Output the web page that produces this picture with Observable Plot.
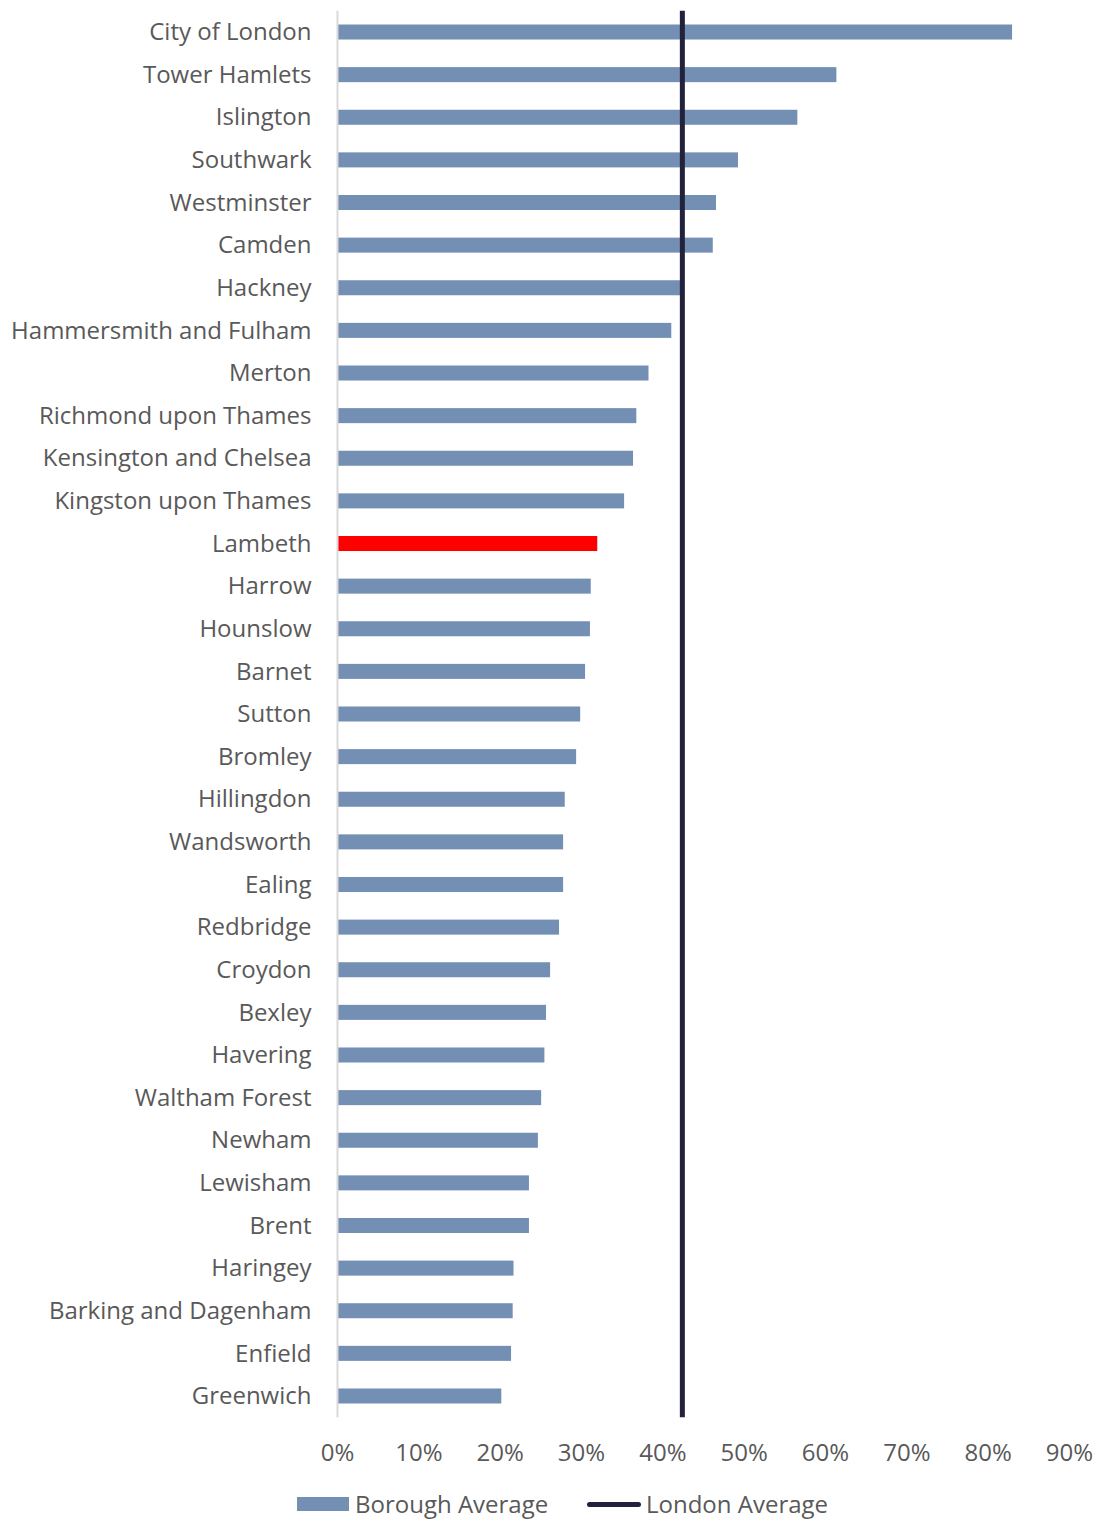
<!DOCTYPE html>
<html>
<head>
<meta charset="utf-8">
<script src="https://cdn.jsdelivr.net/npm/d3@7"></script>
<script src="https://cdn.jsdelivr.net/npm/@observablehq/plot@0.6"></script>
<style>
  html, body { margin: 0; padding: 0; background: #fff; }
  body { width: 1104px; height: 1521px; overflow: hidden; font-family: "Open Sans", sans-serif; }
  #chart svg { display: block; }
  .legend { position: relative; height: 32px; margin-top: 9px; font-family: "Open Sans", sans-serif; font-size: 24px; color: #595959; }
  .legend .item { position: absolute; top: 0; display: flex; align-items: center; height: 30px; line-height: 30px; white-space: nowrap; }
  .legend .sw-bar { width: 52px; height: 14px; background: #748fb4; margin-right: 6px; }
  .legend .sw-line { width: 54px; height: 5px; border-radius: 3px; background: #22223c; margin-right: 5px; }
</style>
</head>
<body>
<div id="chart"></div>
<div class="legend">
  <div class="item" style="left:297px"><span class="sw-bar"></span><span>Borough Average</span></div>
  <div class="item" style="left:587px"><span class="sw-line"></span><span>London Average</span></div>
</div>
<script>
const boroughs = ["City of London","Tower Hamlets","Islington","Southwark","Westminster","Camden","Hackney","Hammersmith and Fulham","Merton","Richmond upon Thames","Kensington and Chelsea","Kingston upon Thames","Lambeth","Harrow","Hounslow","Barnet","Sutton","Bromley","Hillingdon","Wandsworth","Ealing","Redbridge","Croydon","Bexley","Havering","Waltham Forest","Newham","Lewisham","Brent","Haringey","Barking and Dagenham","Enfield","Greenwich"];
const boroughAverage = [83.0,61.4,56.6,49.3,46.6,46.2,42.2,41.1,38.3,36.8,36.4,35.3,32.0,31.2,31.1,30.5,29.9,29.4,28.0,27.8,27.8,27.3,26.2,25.7,25.5,25.1,24.7,23.6,23.6,21.7,21.6,21.4,20.2];
const londonAverage = 42.4;
const highlight = "Lambeth";
const xTicks = [0,10,20,30,40,50,60,70,80,90];

const data = boroughs.map((b, i) => ({borough: b, value: boroughAverage[i]}));

const W = 1104, H = 1480;
const chart = Plot.plot({
  width: W,
  height: H,
  marginLeft: 337,
  marginRight: 35,
  marginTop: 10.7,
  marginBottom: H - 1417.3,
  style: {fontFamily: "Open Sans, sans-serif", fontSize: "24px", color: "#595959", background: "#fff"},
  x: {domain: [0, 90], ticks: xTicks, tickFormat: d => d + "%", tickSize: 0, tickPadding: 26, label: null},
  y: {domain: boroughs, padding: 0, round: false, tickSize: 0, tickPadding: 26, label: null},
  marks: [
    Plot.barX(data, {
      x: "value", y: "borough",
      fill: d => d.borough === highlight ? "#ff0000" : "#748fb4",
      insetTop: 13.8, insetBottom: 13.8
    }),
    Plot.ruleX([0], {stroke: "#d9d9d9", strokeWidth: 2}),
    Plot.ruleX([londonAverage], {stroke: "#22223c", strokeWidth: 5})
  ]
});
document.getElementById("chart").appendChild(chart);
</script>
</body>
</html>
